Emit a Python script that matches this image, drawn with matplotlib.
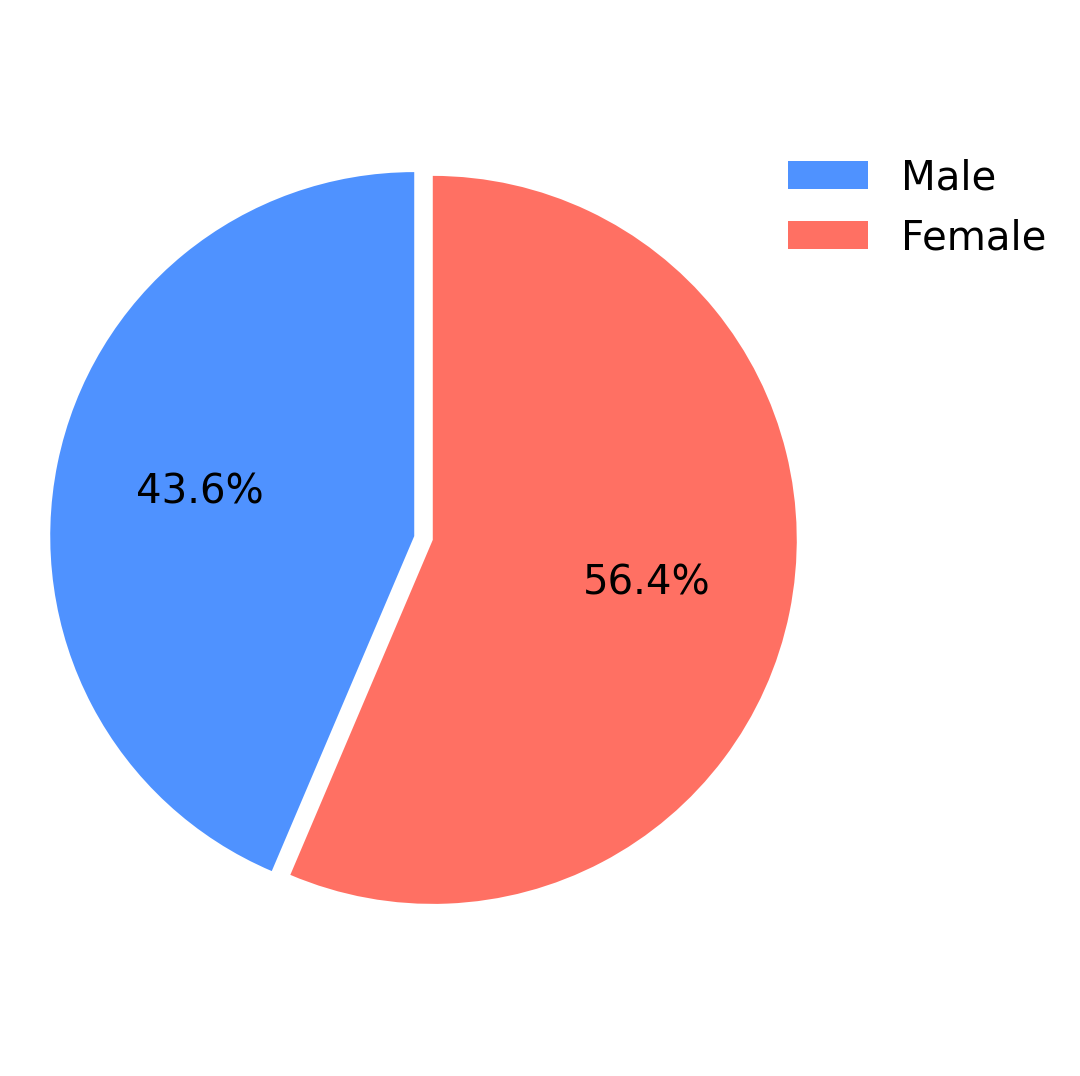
import matplotlib
matplotlib.use('Agg')
import matplotlib.pyplot as plt

labels = ["Male", "Female"]
shares = [43.6, 56.4]
colors = ["#4F92FF", "#FF7063"]
explode = [0.026, 0.026]

fig = plt.figure(figsize=(10.8, 10.76), dpi=100)
ax = fig.add_axes([0, 0, 1, 1])

wedges, texts, autotexts = ax.pie(shares, labels=None, colors=colors, explode=explode,
                                  startangle=90, autopct="%1.1f%%", pctdistance=0.6,
                                  textprops={"fontsize": 29, "color": "black"})

ax.set_aspect('auto')
ax.set_xlim(-1.1635, 1.8036)
ax.set_ylim(-1.4780, 1.4780)
ax.axis('off')

ax.legend(wedges, labels, loc="upper right", bbox_to_anchor=(1.002, 1 - 122 / 1076),
          frameon=False, fontsize=29)

plt.savefig("out.png", dpi=100)
plt.close()
